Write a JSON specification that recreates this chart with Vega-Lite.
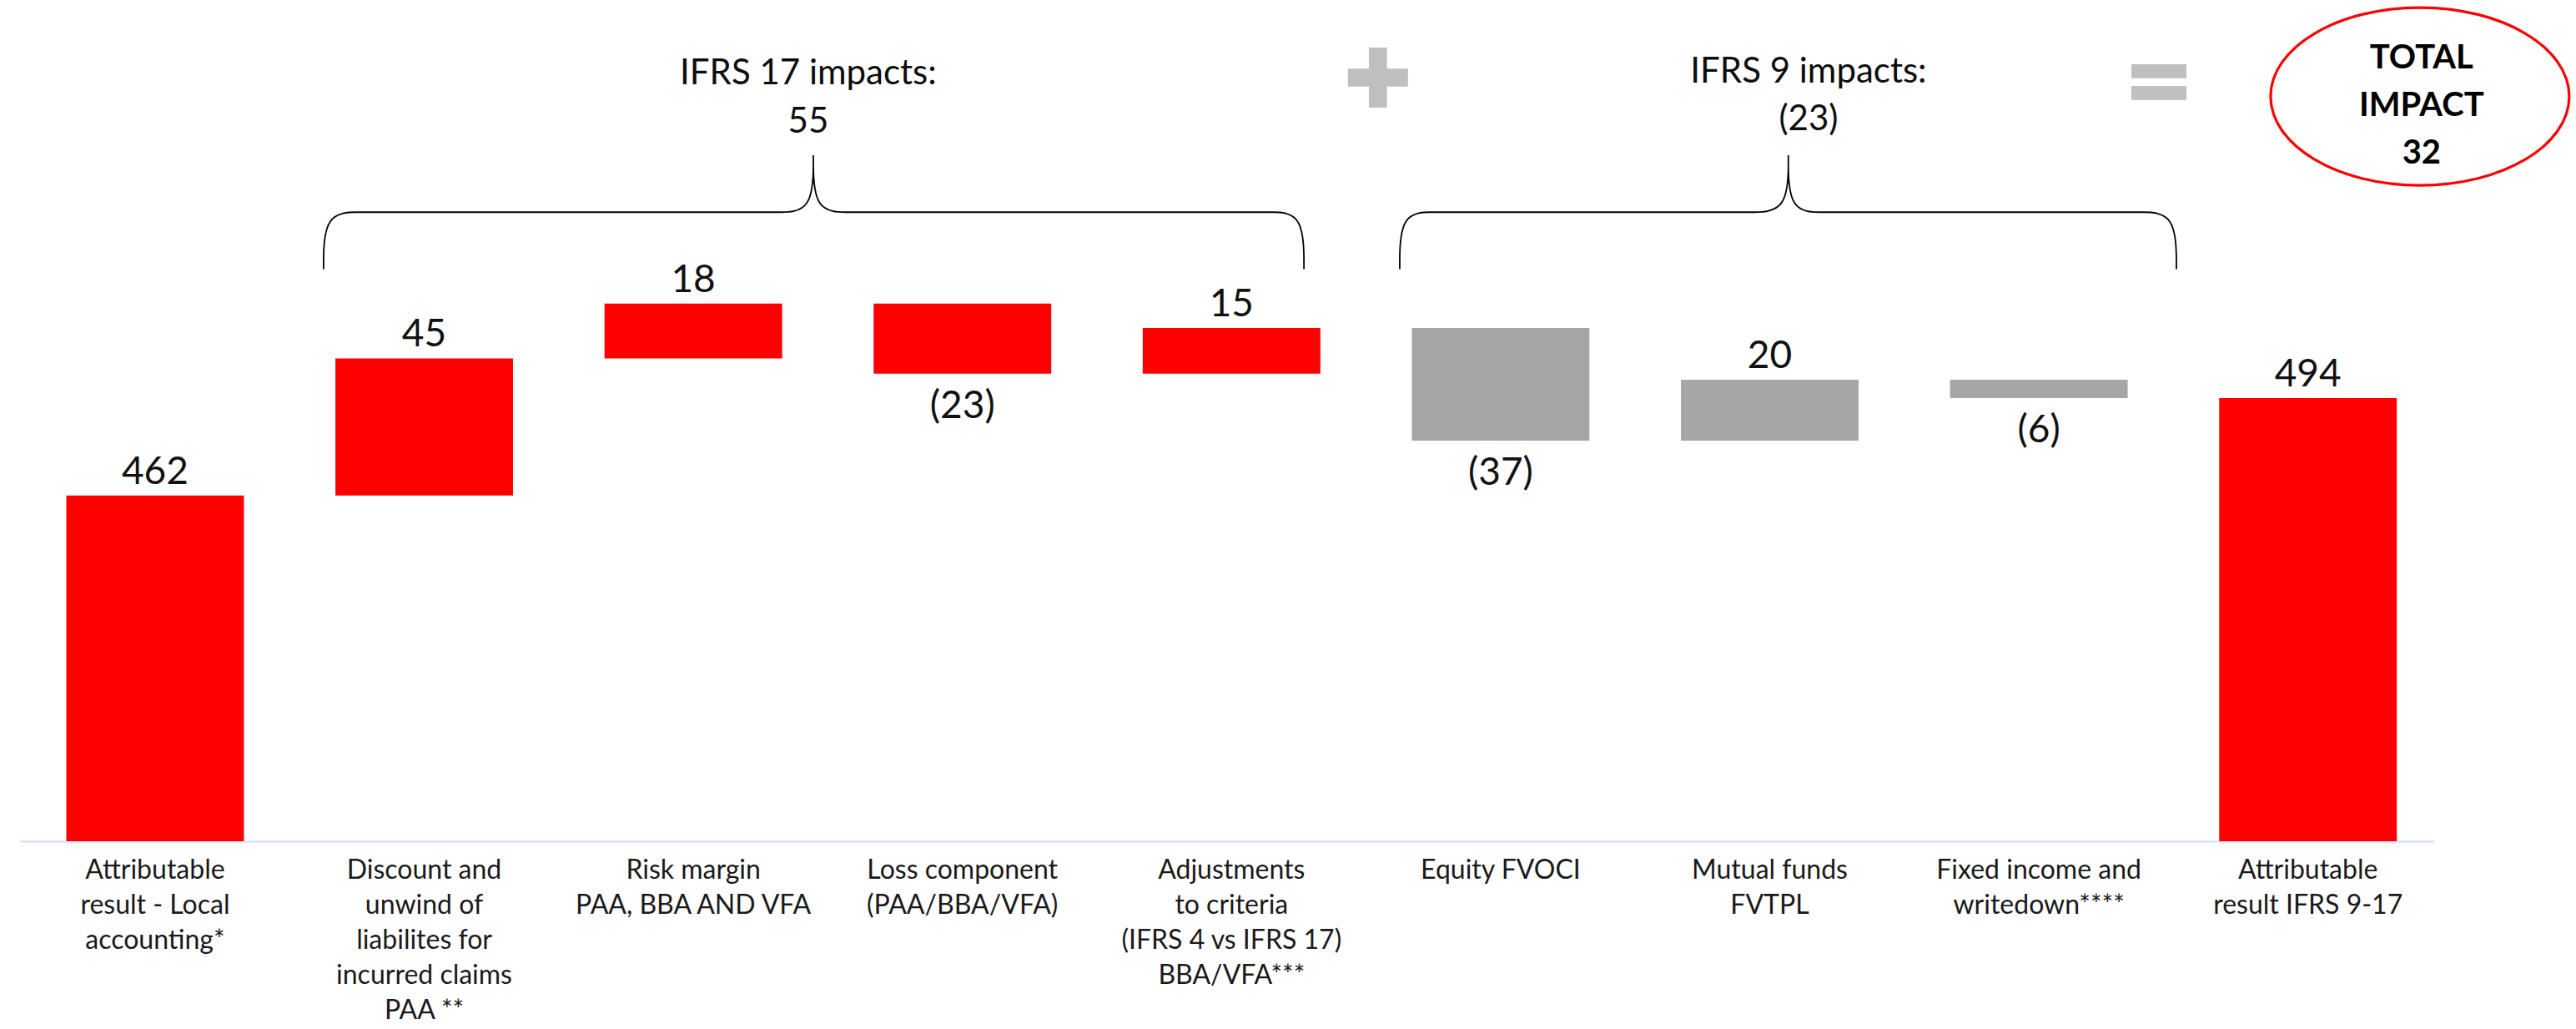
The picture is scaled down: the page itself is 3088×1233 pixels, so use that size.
{
  "$schema": "https://vega.github.io/schema/vega-lite/v6.json",
  "width": 2894,
  "height": 1008,
  "autosize": "none",
  "padding": {"left": 24, "right": 170, "top": 0, "bottom": 225},
  "background": "white",
  "config": {"view": {"stroke": null}, "font": "Lato"},
  "datasets": {
    "steps": [
      {"cat": "Attributable|result - Local|accounting*", "group": "total", "start": 0, "end": 462, "lbl": "462"},
      {"cat": "Discount and|unwind of|liabilites for|incurred claims|PAA **", "group": "IFRS 17", "start": 462, "end": 507, "lbl": "45"},
      {"cat": "Risk margin|PAA, BBA AND VFA", "group": "IFRS 17", "start": 507, "end": 525, "lbl": "18"},
      {"cat": "Loss component|(PAA/BBA/VFA)", "group": "IFRS 17", "start": 525, "end": 502, "lbl": "(23)"},
      {"cat": "Adjustments|to criteria|(IFRS 4 vs IFRS 17)|BBA/VFA***", "group": "IFRS 17", "start": 502, "end": 517, "lbl": "15"},
      {"cat": "Equity FVOCI", "group": "IFRS 9", "start": 517, "end": 480, "lbl": "(37)"},
      {"cat": "Mutual funds|FVTPL", "group": "IFRS 9", "start": 480, "end": 500, "lbl": "20"},
      {"cat": "Fixed income and|writedown****", "group": "IFRS 9", "start": 500, "end": 494, "lbl": "(6)"},
      {"cat": "Attributable|result IFRS 9-17", "group": "total", "start": 0, "end": 494, "lbl": "494"}
    ],
    "braces": [
      {"brace": "IFRS 17", "o": 1, "x": 0.626, "y": 536.3},
      {"brace": "IFRS 17", "o": 2, "x": 0.626, "y": 536.3},
      {"brace": "IFRS 17", "o": 3, "x": 0.626, "y": 536.3},
      {"brace": "IFRS 17", "o": 4, "x": 0.626, "y": 555.0},
      {"brace": "IFRS 17", "o": 5, "x": 0.772, "y": 555.0},
      {"brace": "IFRS 17", "o": 6, "x": 0.772, "y": 555.0},
      {"brace": "IFRS 17", "o": 7, "x": 0.772, "y": 555.0},
      {"brace": "IFRS 17", "o": 8, "x": 2.303, "y": 555.0},
      {"brace": "IFRS 17", "o": 9, "x": 2.303, "y": 555.0},
      {"brace": "IFRS 17", "o": 10, "x": 2.303, "y": 555.0},
      {"brace": "IFRS 17", "o": 11, "x": 2.446, "y": 555.0},
      {"brace": "IFRS 17", "o": 12, "x": 2.446, "y": 573.7},
      {"brace": "IFRS 17", "o": 13, "x": 2.446, "y": 573.7},
      {"brace": "IFRS 17", "o": 14, "x": 2.446, "y": 573.7},
      {"brace": "IFRS 17", "o": 15, "x": 2.446, "y": 555.0},
      {"brace": "IFRS 17", "o": 16, "x": 2.588, "y": 555.0},
      {"brace": "IFRS 17", "o": 17, "x": 2.588, "y": 555.0},
      {"brace": "IFRS 17", "o": 18, "x": 2.588, "y": 555.0},
      {"brace": "IFRS 17", "o": 19, "x": 4.132, "y": 555.0},
      {"brace": "IFRS 17", "o": 20, "x": 4.132, "y": 555.0},
      {"brace": "IFRS 17", "o": 21, "x": 4.132, "y": 555.0},
      {"brace": "IFRS 17", "o": 22, "x": 4.269, "y": 555.0},
      {"brace": "IFRS 17", "o": 23, "x": 4.269, "y": 536.3},
      {"brace": "IFRS 17", "o": 24, "x": 4.269, "y": 536.3},
      {"brace": "IFRS 17", "o": 25, "x": 4.269, "y": 536.3},
      {"brace": "IFRS 9", "o": 1, "x": 4.625, "y": 536.3},
      {"brace": "IFRS 9", "o": 2, "x": 4.625, "y": 536.3},
      {"brace": "IFRS 9", "o": 3, "x": 4.625, "y": 536.3},
      {"brace": "IFRS 9", "o": 4, "x": 4.625, "y": 555.0},
      {"brace": "IFRS 9", "o": 5, "x": 4.761, "y": 555.0},
      {"brace": "IFRS 9", "o": 6, "x": 4.761, "y": 555.0},
      {"brace": "IFRS 9", "o": 7, "x": 4.761, "y": 555.0},
      {"brace": "IFRS 9", "o": 8, "x": 5.918, "y": 555.0},
      {"brace": "IFRS 9", "o": 9, "x": 5.918, "y": 555.0},
      {"brace": "IFRS 9", "o": 10, "x": 5.918, "y": 555.0},
      {"brace": "IFRS 9", "o": 11, "x": 6.069, "y": 555.0},
      {"brace": "IFRS 9", "o": 12, "x": 6.069, "y": 573.7},
      {"brace": "IFRS 9", "o": 13, "x": 6.069, "y": 573.7},
      {"brace": "IFRS 9", "o": 14, "x": 6.069, "y": 573.7},
      {"brace": "IFRS 9", "o": 15, "x": 6.069, "y": 555.0},
      {"brace": "IFRS 9", "o": 16, "x": 6.206, "y": 555.0},
      {"brace": "IFRS 9", "o": 17, "x": 6.206, "y": 555.0},
      {"brace": "IFRS 9", "o": 18, "x": 6.206, "y": 555.0},
      {"brace": "IFRS 9", "o": 19, "x": 7.365, "y": 555.0},
      {"brace": "IFRS 9", "o": 20, "x": 7.365, "y": 555.0},
      {"brace": "IFRS 9", "o": 21, "x": 7.365, "y": 555.0},
      {"brace": "IFRS 9", "o": 22, "x": 7.511, "y": 555.0},
      {"brace": "IFRS 9", "o": 23, "x": 7.511, "y": 536.3},
      {"brace": "IFRS 9", "o": 24, "x": 7.511, "y": 536.3},
      {"brace": "IFRS 9", "o": 25, "x": 7.511, "y": 536.3}
    ]
  },
  "layer": [
    {
      "data": {"name": "steps"},
      "layer": [
        {
          "mark": {"type": "bar"},
          "encoding": {
            "x": {
              "field": "cat", "type": "nominal", "sort": null,
              "scale": {"paddingInner": 0.34, "paddingOuter": 0.1555, "align": 0.553},
              "axis": {
                "title": null, "labelAngle": 0, "labelAlign": "center", "labelBaseline": "top",
                "labelExpr": "split(datum.label, '|')",
                "labelFont": "Lato", "labelFontSize": 32, "labelLineHeight": 42,
                "labelColor": "#1a1a1a", "labelPadding": 19, "labelLimit": 0, "labelOverlap": false,
                "ticks": false, "domainColor": "#d9e1f2", "domainWidth": 2.5, "grid": false
              }
            },
            "y": {"field": "start", "type": "quantitative", "axis": null,
                  "scale": {"domain": [348.5, 624.66], "nice": false, "zero": false, "clamp": true}},
            "y2": {"field": "end"},
            "color": {"field": "group", "type": "nominal", "legend": null,
                      "scale": {"domain": ["total", "IFRS 17", "IFRS 9"], "range": ["#ff0000", "#ff0000", "#a6a6a6"]}}
          }
        },
        {
          "transform": [{"filter": "datum.end >= datum.start"}],
          "mark": {"type": "text", "font": "Lato", "fontSize": 46, "color": "#111111", "baseline": "alphabetic", "align": "center", "dy": -14},
          "encoding": {
            "x": {"field": "cat", "type": "nominal", "sort": null},
            "y": {"field": "end", "type": "quantitative", "axis": null,
                  "scale": {"domain": [348.5, 624.66], "nice": false, "zero": false, "clamp": true}},
            "text": {"field": "lbl"}
          }
        },
        {
          "transform": [{"filter": "datum.end < datum.start"}],
          "mark": {"type": "text", "font": "Lato", "fontSize": 46, "color": "#111111", "baseline": "top", "align": "center", "dy": 17},
          "encoding": {
            "x": {"field": "cat", "type": "nominal", "sort": null},
            "y": {"field": "end", "type": "quantitative", "axis": null,
                  "scale": {"domain": [348.5, 624.66], "nice": false, "zero": false, "clamp": true}},
            "text": {"field": "lbl"}
          }
        }
      ]
    },
    {
      "layer": [
        {
          "data": {"name": "braces"},
          "mark": {"type": "line", "interpolate": "basis", "color": "#000000", "strokeWidth": 1.8},
          "encoding": {
            "x": {"field": "x", "type": "quantitative", "axis": null,
                  "scale": {"domain": [-0.502, 8.469], "nice": false, "zero": false}},
            "y": {"field": "y", "type": "quantitative", "axis": null,
                  "scale": {"domain": [348.5, 624.66], "nice": false, "zero": false, "clamp": true}},
            "detail": {"field": "brace"},
            "order": {"field": "o", "type": "quantitative"}
          }
        },
        {
          "data": {"values": [{}]},
          "mark": {"type": "text", "text": "IFRS 17 impacts:\n55", "lineBreak": "\n", "font": "Lato", "fontSize": 42, "lineHeight": 58, "align": "center", "baseline": "alphabetic", "color": "#0d0d0d"},
          "encoding": {
            "x": {"datum": 2.427, "type": "quantitative", "axis": null,
                  "scale": {"domain": [-0.502, 8.469], "nice": false, "zero": false}},
            "y": {"datum": 597.0, "type": "quantitative", "axis": null,
                  "scale": {"domain": [348.5, 624.66], "nice": false, "zero": false, "clamp": true}}
          }
        },
        {
          "data": {"values": [{}]},
          "mark": {"type": "text", "text": "IFRS 9 impacts:\n(23)", "lineBreak": "\n", "font": "Lato", "fontSize": 42, "lineHeight": 57, "align": "center", "baseline": "alphabetic", "color": "#0d0d0d"},
          "encoding": {
            "x": {"datum": 6.144, "type": "quantitative", "axis": null,
                  "scale": {"domain": [-0.502, 8.469], "nice": false, "zero": false}},
            "y": {"datum": 597.5, "type": "quantitative", "axis": null,
                  "scale": {"domain": [348.5, 624.66], "nice": false, "zero": false, "clamp": true}}
          }
        },
        {
          "data": {"values": [{}]},
          "mark": {"type": "point", "shape": "M-0.3,-1H0.3V-0.3H1V0.3H0.3V1H-0.3V0.3H-1V-0.3H-0.3Z", "size": 5184, "filled": true, "fill": "#bfbfbf", "opacity": 1, "strokeWidth": 0},
          "encoding": {
            "x": {"datum": 4.544, "type": "quantitative", "axis": null,
                  "scale": {"domain": [-0.502, 8.469], "nice": false, "zero": false}},
            "y": {"datum": 599.2, "type": "quantitative", "axis": null,
                  "scale": {"domain": [348.5, 624.66], "nice": false, "zero": false, "clamp": true}}
          }
        },
        {
          "data": {"values": [{}]},
          "mark": {"type": "point", "shape": "M-1,-0.65H1V-0.14H-1Z M-1,0.14H1V0.65H-1Z", "size": 4356, "filled": true, "fill": "#bfbfbf", "opacity": 1, "strokeWidth": 0},
          "encoding": {
            "x": {"datum": 7.446, "type": "quantitative", "axis": null,
                  "scale": {"domain": [-0.502, 8.469], "nice": false, "zero": false}},
            "y": {"datum": 597.7, "type": "quantitative", "axis": null,
                  "scale": {"domain": [348.5, 624.66], "nice": false, "zero": false, "clamp": true}}
          }
        },
        {
          "data": {"values": [{}]},
          "mark": {"type": "point", "shape": "M-1,0A1,0.595 0 1,0 1,0A1,0.595 0 1,0 -1,0Z", "size": 128164, "filled": false, "stroke": "#ff0000", "strokeWidth": 3.2, "opacity": 1},
          "encoding": {
            "x": {"datum": 8.416, "type": "quantitative", "axis": null,
                  "scale": {"domain": [-0.502, 8.469], "nice": false, "zero": false}},
            "y": {"datum": 593.0, "type": "quantitative", "axis": null,
                  "scale": {"domain": [348.5, 624.66], "nice": false, "zero": false, "clamp": true}}
          }
        },
        {
          "data": {"values": [{}]},
          "mark": {"type": "text", "text": "TOTAL\nIMPACT\n32", "lineBreak": "\n", "font": "Lato", "fontSize": 40, "fontWeight": "bold", "lineHeight": 57, "align": "center", "baseline": "alphabetic", "color": "#000000"},
          "encoding": {
            "x": {"datum": 8.422, "type": "quantitative", "axis": null,
                  "scale": {"domain": [-0.502, 8.469], "nice": false, "zero": false}},
            "y": {"datum": 602.2, "type": "quantitative", "axis": null,
                  "scale": {"domain": [348.5, 624.66], "nice": false, "zero": false, "clamp": true}}
          }
        }
      ]
    }
  ],
  "resolve": {"scale": {"x": "independent"}}
}
